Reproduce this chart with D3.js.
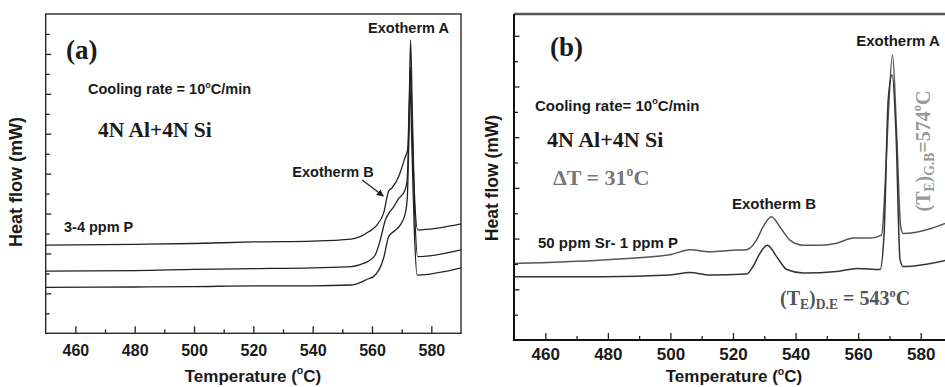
<!DOCTYPE html>
<html>
<head>
<meta charset="utf-8">
<style>
  body { margin: 0; background: #fff; }
  svg text { font-family: 'Liberation Sans', Arial, sans-serif; font-weight: bold; fill: #1a1a1a; }
  svg text.serif { font-family: 'Liberation Serif', 'Times New Roman', serif; }
  .tick line { stroke: #222; stroke-width: 1.3px; }
  .trace { fill: none; stroke-linejoin: round; }
</style>
</head>
<body>
<svg id="chart" width="945" height="387"></svg>
<script src="https://cdn.jsdelivr.net/npm/d3@7"></script>
<script>
// x axis (same for both panels)
const tempDomain = [450, 590];
const majorTemps = [460, 480, 500, 520, 540, 560, 580];
const minorTemps = [470, 490, 510, 530, 550, 570];

// panel (a): three traces, 3-4 ppm P
const tempA1 = [450, 480, 500, 520, 540, 553, 556, 559, 561.5, 563.9, 565.6, 566.7, 569, 571.2, 572, 572.5, 573, 573.6, 574.3, 575.4, 590];
const flowA1 = [2.21, 2.23, 2.25, 2.29, 2.31, 2.36, 2.42, 2.55, 2.70, 3.01, 3.56, 3.64, 3.93, 4.42, 4.59, 5.6, 7.35, 5.5, 3.5, 2.59, 2.74];
const tempA2 = [450, 480, 500, 520, 540, 553, 556, 559, 561, 562.8, 564.5, 565.6, 567.3, 569, 570.9, 571.8, 572.4, 572.9, 573.6, 574.4, 575.4, 590];
const flowA2 = [1.56, 1.57, 1.60, 1.62, 1.64, 1.67, 1.72, 1.82, 1.95, 2.34, 2.84, 3.0, 3.17, 3.38, 3.55, 3.8, 5.0, 6.67, 5.0, 3.0, 1.92, 2.09];
const tempA3 = [450, 480, 500, 520, 540, 553, 556, 558.5, 560.5, 563.9, 565.6, 567.3, 569.5, 571.2, 571.9, 572.4, 572.8, 573.5, 574.3, 575.2, 590];
const flowA3 = [1.15, 1.16, 1.17, 1.19, 1.19, 1.21, 1.27, 1.36, 1.42, 1.88, 2.42, 2.55, 2.71, 3.0, 3.4, 4.8, 6.22, 4.5, 2.5, 1.46, 1.64];

// panel (b): two traces, 50 ppm Sr - 1 ppm P
const tempB1 = [450, 478.5, 499.8, 506.2, 512.6, 520, 524.3, 527.5, 529.6, 532.3, 535, 538.2, 542.5, 547.8, 553.2, 558.5, 563.8, 567.5, 568.6, 569.6, 571, 572.3, 573.6, 574.4, 590];
const flowB1 = [1.51, 1.58, 1.68, 1.78, 1.74, 1.77, 1.78, 1.97, 2.23, 2.43, 2.23, 1.97, 1.87, 1.87, 1.91, 2.01, 2.01, 2.07, 3.02, 4.40, 5.62, 4.08, 2.23, 2.10, 2.35];
const tempB2 = [450, 478.5, 499.8, 506.2, 512.6, 524.3, 526.4, 528.6, 531, 534, 537.2, 542.5, 553.2, 559.6, 567, 568.3, 569.6, 570.9, 572.1, 573.4, 574.4, 590];
const flowB2 = [1.25, 1.25, 1.28, 1.33, 1.28, 1.30, 1.45, 1.71, 1.87, 1.64, 1.39, 1.32, 1.35, 1.41, 1.39, 2.10, 4.73, 5.23, 4.08, 1.58, 1.45, 1.60];

const zip = (t, v) => t.map((d, i) => [d, v[i]]);
const svg = d3.select('#chart');

// text with sub/superscript runs: [text, 'sup' | 'sub' | null]
function rich(g, x, y, runs, o) {
  const size = o.size;
  const t = g.append('text')
      .attr('x', x).attr('y', y)
      .attr('class', o.serif ? 'serif' : null)
      .attr('text-anchor', o.anchor || 'start')
      .style('font-size', size + 'px')
      .style('fill', o.fill || '#1a1a1a');
  if (o.transform) t.attr('transform', o.transform);
  let shift = 0;
  runs.forEach(([s, kind]) => {
    let target = 0, fs = size;
    if (kind === 'sup') { target = -0.42 * size; fs = 0.62 * size; }
    if (kind === 'sub') { target = 0.22 * size; fs = 0.68 * size; }
    t.append('tspan')
        .attr('dy', target - shift)
        .style('font-size', fs + 'px')
        .text(s);
    shift = target;
  });
  return t;
}

function drawPanel(p) {
  const x = d3.scaleLinear().domain(tempDomain).range([p.left, p.right]);
  const y = d3.scaleLinear().domain(p.yDomain).range([p.bottom, p.top]);
  const g = svg.append('g');

  g.append('clipPath').attr('id', p.id + '-clip')
    .append('rect')
      .attr('x', p.left).attr('y', p.top)
      .attr('width', p.right - p.left).attr('height', p.bottom - p.top);

  const line = d3.line()
      .x(d => x(d[0]))
      .y(d => y(d[1]))
      .curve(d3.curveMonotoneX);

  g.append('g').attr('clip-path', `url(#${p.id}-clip)`)
    .selectAll('path')
    .data(p.traces)
    .join('path')
      .attr('class', 'trace')
      .attr('d', d => line(d.pts))
      .style('stroke', d => d.color)
      .style('stroke-width', d => d.width);

  // x ticks, pointing inward
  const xMajor = g.append('g')
      .attr('transform', `translate(0,${p.bottom})`)
      .call(d3.axisBottom(x).tickValues(majorTemps).tickSize(-7));
  xMajor.selectAll('text')
      .attr('y', p.tickLabelY).attr('dy', null)
      .style('font-size', p.tickFont + 'px')
      .style('font-family', "'Liberation Sans', Arial, sans-serif")
      .style('font-weight', 'bold')
      .style('fill', '#1a1a1a');
  g.append('g')
      .attr('transform', `translate(0,${p.bottom})`)
      .call(d3.axisBottom(x).tickValues(minorTemps).tickSize(-4).tickFormat(''));

  // y ticks, pointing inward, no labels
  const yTicks = d3.range(0.5, p.yDomain[1], 0.5);
  g.append('g')
      .attr('transform', `translate(${p.left},0)`)
      .call(d3.axisRight(y).tickValues(yTicks.filter(v => v % 1 === 0)).tickSize(5.5).tickFormat(''));
  g.append('g')
      .attr('transform', `translate(${p.left},0)`)
      .call(d3.axisRight(y).tickValues(yTicks.filter(v => v % 1 !== 0)).tickSize(4).tickFormat(''));
  g.selectAll('.domain').remove();

  // frame
  if (p.fullFrame) {
    g.append('rect')
        .attr('x', p.left).attr('y', p.top)
        .attr('width', p.right - p.left).attr('height', p.bottom - p.top)
        .style('fill', 'none').style('stroke', '#2a2a2a').style('stroke-width', 1.4);
  } else {
    g.append('line')
        .attr('x1', p.left).attr('x2', p.right).attr('y1', p.top).attr('y2', p.top)
        .style('stroke', '#555').style('stroke-width', 2.6);
    g.append('path')
        .attr('d', `M${p.left},${p.top}V${p.bottom}H${p.right}`)
        .style('fill', 'none').style('stroke', '#111').style('stroke-width', 2);
  }

  // axis titles
  rich(g, p.xTitleX, p.xTitleY, [['Temperature (', null], ['o', 'sup'], ['C)', null]],
       { size: 17, anchor: 'middle' });
  g.append('text')
      .attr('transform', `translate(${p.yTitleX},${p.yTitleY}) rotate(-90)`)
      .attr('text-anchor', 'middle')
      .style('font-size', p.yTitleFont + 'px')
      .text('Heat flow (mW)');

  return { g, x, y };
}

// ---------- panel (a) ----------
const A = drawPanel({
  id: 'pa', left: 45.7, right: 461, top: 14, bottom: 333.3, yDomain: [0, 8],
  fullFrame: true, tickFont: 16, tickLabelY: 23,
  xTitleX: 253, xTitleY: 381.5, yTitleX: 21.5, yTitleY: 182, yTitleFont: 18,
  traces: [
    { pts: zip(tempA1, flowA1), color: '#222', width: 1.3 },
    { pts: zip(tempA2, flowA2), color: '#222', width: 1.3 },
    { pts: zip(tempA3, flowA3), color: '#222', width: 1.3 }
  ]
});

rich(A.g, 66, 59, [['(a)', null]], { size: 27, serif: true });
rich(A.g, 408.5, 33, [['Exotherm A', null]], { size: 14.5, anchor: 'middle' });
rich(A.g, 88, 94, [['Cooling rate = 10', null], ['o', 'sup'], ['C/min', null]], { size: 14.5 });
rich(A.g, 98, 137, [['4N Al+4N Si', null]], { size: 21.5, serif: true });
rich(A.g, 333, 177, [['Exotherm B', null]], { size: 14.5, anchor: 'middle' });
rich(A.g, 64, 232, [['3-4 ppm P', null]], { size: 14.5 });

svg.append('defs').append('marker')
    .attr('id', 'arrowhead')
    .attr('viewBox', '0 0 10 10').attr('refX', 9).attr('refY', 5)
    .attr('markerWidth', 7).attr('markerHeight', 7)
    .attr('markerUnits', 'userSpaceOnUse')
    .attr('orient', 'auto')
  .append('path').attr('d', 'M0,0L10,5L0,10Z').style('fill', '#222');

A.g.append('line')
    .attr('x1', A.x(556.7)).attr('y1', A.y(3.84))
    .attr('x2', A.x(563.8)).attr('y2', A.y(3.44))
    .style('stroke', '#222').style('stroke-width', 1.3)
    .attr('marker-end', 'url(#arrowhead)');

// ---------- panel (b) ----------
const B = drawPanel({
  id: 'pb', left: 514, right: 952, top: 14, bottom: 340, yDomain: [0, 6.43],
  fullFrame: false, tickFont: 17, tickLabelY: 20,
  xTitleX: 734, xTitleY: 382, yTitleX: 498, yTitleY: 178, yTitleFont: 17.5,
  traces: [
    { pts: zip(tempB1, flowB1), color: '#555', width: 1.5 },
    { pts: zip(tempB2, flowB2), color: '#333', width: 1.5 }
  ]
});

rich(B.g, 550, 56, [['(b)', null]], { size: 27, serif: true });
rich(B.g, 898, 46, [['Exotherm A', null]], { size: 15, anchor: 'middle' });
rich(B.g, 535, 110.5, [['Cooling rate= 10', null], ['o', 'sup'], ['C/min', null]], { size: 15 });
rich(B.g, 547, 147, [['4N Al+4N Si', null]], { size: 22, serif: true });
rich(B.g, 553, 185, [['ΔT = 31', null], ['o', 'sup'], ['C', null]], { size: 22, serif: true, fill: '#777' });
rich(B.g, 774, 209, [['Exotherm B', null]], { size: 15, anchor: 'middle' });
rich(B.g, 538, 248, [['50 ppm Sr- 1 ppm P', null]], { size: 15 });
rich(B.g, 780, 305, [['(T', null], ['E', 'sub'], [')', null], ['D.E', 'sub'], [' = 543', null], ['o', 'sup'], ['C', null]],
     { size: 20, serif: true, fill: '#555' });
rich(B.g, 0, 0, [['(T', null], ['E', 'sub'], [')', null], ['G.B', 'sub'], ['=574', null], ['o', 'sup'], ['C', null]],
     { size: 20, serif: true, fill: '#9a9a9a', transform: 'translate(929.5,211.5) rotate(-90)' });
</script>
</body>
</html>
